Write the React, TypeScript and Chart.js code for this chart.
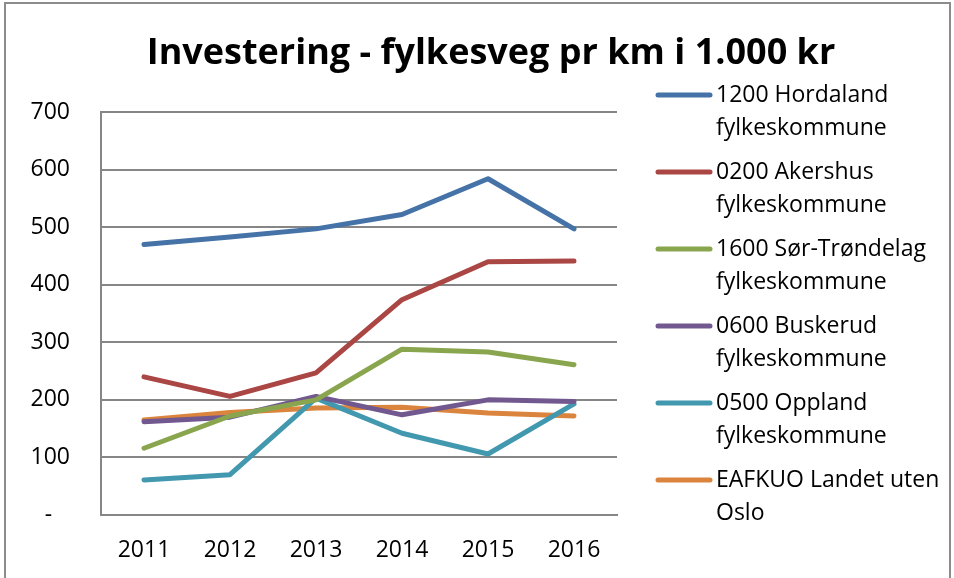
import React, { useEffect, useRef } from "react";
import { Chart, registerables } from "chart.js";

Chart.register(...registerables);

const years = ["2011", "2012", "2013", "2014", "2015", "2016"];
const hordaland = [470, 483, 497, 522, 584, 497];
const akershus = [240, 206, 247, 374, 440, 441];
const sorTrondelag = [116, 172, 200, 288, 283, 261];
const buskerud = [162, 170, 206, 174, 200, 197];
const oppland = [61, 70, 203, 142, 106, 193];
const landet = [165, 178, 186, 187, 177, 172];

const seriesNames = [
  ["1200 Hordaland", "fylkeskommune"],
  ["0200 Akershus", "fylkeskommune"],
  ["1600 Sør-Trøndelag", "fylkeskommune"],
  ["0600 Buskerud", "fylkeskommune"],
  ["0500 Oppland", "fylkeskommune"],
  ["EAFKUO Landet uten", "Oslo"],
];
const seriesColors = ["#4572A7", "#AA4643", "#89A54E", "#71588F", "#4198AF", "#DB843D"];
const titleText = "Investering - fylkesveg pr km i 1.000 kr";

const FONT = "'Open Sans', 'Noto Sans', sans-serif";

export default function App() {
  const ref = useRef<HTMLCanvasElement>(null);
  useEffect(() => {
    if (!ref.current) return;
    const values = [hordaland, akershus, sorTrondelag, buskerud, oppland, landet];
    const decor = {
      id: "decor",
      afterDraw(chart: any) {
        const ctx = chart.ctx;
        ctx.save();
        // outer frame
        ctx.strokeStyle = "#8c8c8c";
        ctx.lineWidth = 2;
        ctx.strokeRect(5, 3, 945, 590);
        // title
        ctx.fillStyle = "#000";
        ctx.font = `bold 36px ${FONT}`;
        ctx.textAlign = "center";
        ctx.textBaseline = "middle";
        ctx.fillText(titleText, 491, 54);
        // legend
        ctx.textAlign = "left";
        ctx.font = `23px ${FONT}`;
        chart.data.datasets.forEach((ds: any, i: number) => {
          const y = 95 + i * 77;
          ctx.strokeStyle = ds.borderColor;
          ctx.lineWidth = 5;
          ctx.lineCap = "round";
          ctx.beginPath();
          ctx.moveTo(658, y);
          ctx.lineTo(710, y);
          ctx.stroke();
          ctx.fillStyle = "#000";
          const lines = seriesNames[i];
          lines.forEach((t, j) => ctx.fillText(t, 716, y + j * 33));
        });
        ctx.restore();
      },
    };
    const chart = new Chart(ref.current, {
      type: "line",
      data: {
        labels: years,
        datasets: values.map((v, i) => ({
          label: seriesNames[i].join(" "),
          data: v,
          borderColor: seriesColors[i],
          backgroundColor: seriesColors[i],
          borderWidth: 5,
          pointRadius: 0,
          tension: 0,
          borderCapStyle: "round" as const,
          borderJoinStyle: "round" as const,
        })),
      },
      options: {
        animation: false,
        responsive: false,
        layout: { padding: { top: 112, right: 337, bottom: 0, left: 0 } },
        plugins: { legend: { display: false }, title: { display: false }, tooltip: { enabled: false } },
        scales: {
          x: {
            offset: true,
            grid: { display: false, drawTicks: false },
            border: { display: true, color: "#868686", width: 2 },
            ticks: { color: "#000", font: { family: FONT, size: 23 }, padding: 22 },
            afterFit: (s: any) => { s.height = 63; },
          },
          y: {
            min: 0,
            max: 700,
            ticks: {
              stepSize: 100,
              color: "#000",
              font: { family: FONT, size: 23 },
              padding: 31,
              callback: (v: any) => (v === 0 ? "-   " : String(v)),
            },
            grid: { color: "#868686", lineWidth: 2, drawTicks: false },
            border: { display: true, color: "#868686", width: 2 },
            afterFit: (s: any) => { s.width = 101; },
          },
        },
      },
      plugins: [decor],
    });
    return () => chart.destroy();
  }, []);
  return (
    <div style={{ position: "fixed", left: 0, top: 0, width: 954, height: 578, background: "#fff" }}>
      <canvas ref={ref} width={954} height={578} style={{ width: 954, height: 578 }} />
    </div>
  );
}
